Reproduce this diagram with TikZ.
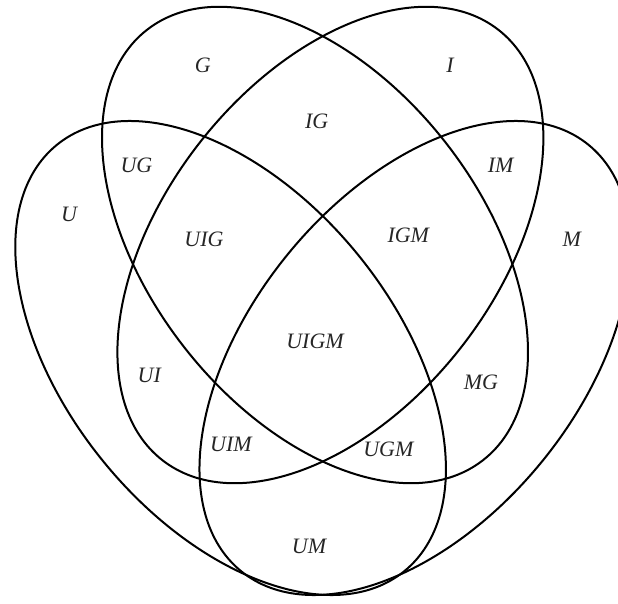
\documentclass[tikz,border=0pt]{standalone}
\usepackage{fontspec}
\setmainfont{Liberation Serif}
\begin{document}
\begin{tikzpicture}[x=1pt,y=1pt,
  setline/.style={line width=2pt, black},
  lbl/.style={inner sep=0pt, text=black!85, font=\fontsize{22}{26}\selectfont\itshape}]
\useasboundingbox (0,0) rectangle (618,603);
\clip (0,0) rectangle (618,603);
% set G
\draw[setline, rotate around={-52:(315,358)}] (315,358) ellipse [x radius=273pt, y radius=166pt];
% set I
\draw[setline, rotate around={52:(330.4,358)}] (330.4,358) ellipse [x radius=273pt, y radius=166pt];
% set U
\draw[setline, rotate around={-50.8:(230.6,245)}] (230.6,245) ellipse [x radius=275pt, y radius=164pt];
% set M
\draw[setline, rotate around={50.8:(414.8,245)}] (414.8,245) ellipse [x radius=275pt, y radius=164pt];
% labels
\node[lbl] (g) at (202.7,537.3) {G};
\node[lbl] (i) at (450,537.3) {I};
\node[lbl] (ig) at (316.7,482) {IG};
\node[lbl] (ug) at (136.5,438) {UG};
\node[lbl] (u) at (69,389) {U};
\node[lbl] (uig) at (204,364) {UIG};
\node[lbl] (ui) at (149.3,228) {UI};
\node[lbl] (im) at (500.7,438) {IM};
\node[lbl] (igm) at (408.3,368) {IGM};
\node[lbl] (m) at (571.7,363.7) {M};
\node[lbl] (mg) at (481,220.3) {MG};
\node[lbl] (uigm) at (315,261.5) {UIGM};
\node[lbl] (uim) at (231,158.7) {UIM};
\node[lbl] (ugm) at (388.3,153.7) {UGM};
\node[lbl] (um) at (309,57) {UM};
\end{tikzpicture}
\end{document}
